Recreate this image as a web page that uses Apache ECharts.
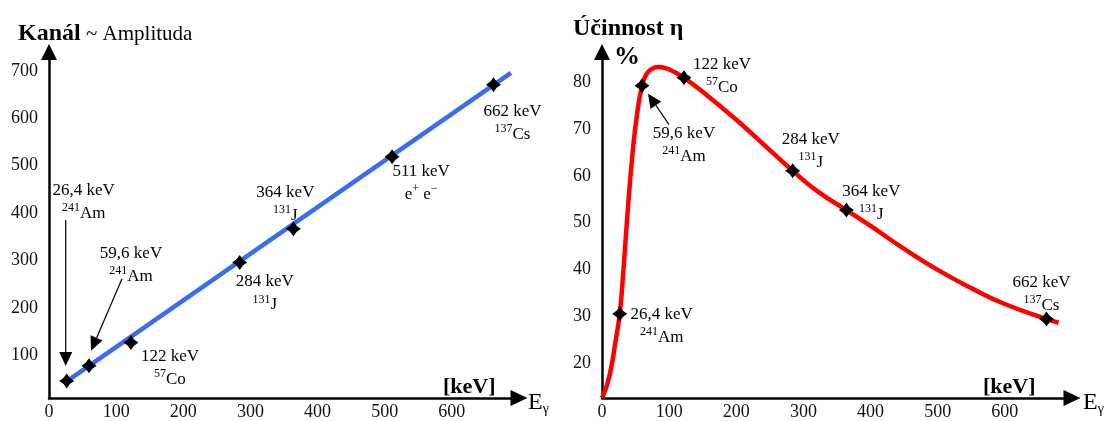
<!DOCTYPE html>
<html>
<head>
<meta charset="utf-8">
<script src="https://cdn.jsdelivr.net/npm/echarts@6/dist/echarts.min.js"></script>
<style>
  html, body { margin: 0; padding: 0; background: #fff; }
  #chart { width: 1108px; height: 421px; }
</style>
</head>
<body>
<div id="chart"></div>
<script>
// ---- Energy calibration: channel (pulse amplitude) vs gamma energy ----
const calibEnergy  = [26.4, 59.6, 122, 284, 364, 511, 662];
const calibChannel = [46, 78, 127, 296, 367, 519, 671];
// end points of the fitted calibration line
const fitEnergy  = [22, 688];
const fitChannel = [41, 696];
const channelTicks = [100, 200, 300, 400, 500, 600, 700];

// ---- Detection efficiency vs gamma energy ----
const effEnergy = [26.4, 59.6, 122, 284, 364, 662];
const effValue  = [30.5, 79.3, 81, 61.1, 52.7, 29.4];
const curveEnergy = [0, 8, 15, 20, 26.4, 32, 38, 45, 52, 59.6, 66, 74, 84, 96, 108, 122, 150, 200, 250, 284, 320, 364, 400, 450, 500, 550, 600, 662, 680];
const curveValue  = [12.5, 15.5, 20, 24.5, 30.5, 40, 52, 64, 73, 79.3, 81.7, 82.9, 83.3, 83.0, 82.2, 81, 78, 72, 65.5, 61.1, 56.8, 52.7, 49.3, 44.4, 39.9, 36, 32.6, 29.4, 28.6];
const efficiencyTicks = [20, 30, 40, 50, 60, 70, 80];

const energyTicks = [0, 100, 200, 300, 400, 500, 600];

// line notes: energy + isotope (superscript mass number)
const calibNotes = [
  '{v|26,4 keV}\n{s|241}{v|Am}',
  '{v|59,6 keV}\n{s|241}{v|Am}',
  '{v|122 keV}\n{s|57}{v|Co}',
  '{v|284 keV}\n{s|131}{v|J}',
  '{v|364 keV}\n{s|131}{v|J}',
  '{v|511 keV}\n{v|e}{s|+}{v| e}{s|\u2212}',
  '{v|662 keV}\n{s|137}{v|Cs}'
];
const effNotes = [
  '{v|26,4 keV}\n{s|241}{v|Am}',
  '{v|59,6 keV}\n{s|241}{v|Am}',
  '{v|122 keV}\n{s|57}{v|Co}',
  '{v|284 keV}\n{s|131}{v|J}',
  '{v|364 keV}\n{s|131}{v|J}',
  '{v|662 keV}\n{s|137}{v|Cs}'
];

// label placement (pixel offset of the text block centre from its point)
const calibNoteOffset = [[17, -179], [42, -101], [39, 25], [25, 31], [-8, -25], [29, 26], [19, 38]];
const effNoteOffset   = [[42, 12], [42, 59], [38, -2], [18, -20], [25, -7], [-5, -25]];
// pointer arrows: [grid, point index, tail offset, tip offset]
const pointers = [
  [0, 0, [-1, -161], [-1, -15]],
  [0, 1, [33, -87], [2, -15]],
  [1, 1, [27, 39], [6, 8]]
];

const SERIF = '"Liberation Serif", "DejaVu Serif", serif';
const INK = '#000';
const richNote = {
  v: { fontFamily: SERIF, fontSize: 17, color: INK, lineHeight: 23, textBorderWidth: 0 },
  s: { fontFamily: SERIF, fontSize: 12, color: INK, lineHeight: 23, verticalAlign: 'top', textBorderWidth: 0 }
};
const starSymbol = 'path://M0,-10 L4.2,-4.2 L10,0 L4.2,4.2 L0,10 L-4.2,4.2 L-10,0 L-4.2,-4.2 Z';

function zip(a, b) { return a.map((v, i) => [v, b[i]]); }

function pointData(xs, ys, notes, offsets) {
  return xs.map((x, i) => ({
    value: [x, ys[i]],
    label: {
      show: true,
      position: 'inside',
      align: 'center',
      verticalAlign: 'middle',
      offset: offsets[i],
      formatter: notes[i],
      color: INK,
      opacity: 1,
      textBorderWidth: 0,
      textBorderColor: 'transparent',
      rich: richNote
    }
  }));
}

const axisLineStyle = { color: '#000', width: 2.5 };

function xAxisFor(gridIndex) {
  return {
    type: 'value', gridIndex, min: 0, max: 700,
    axisLine: { show: true, onZero: false, lineStyle: axisLineStyle, symbol: ['none', 'triangle'], symbolSize: [16, 17] },
    axisTick: { show: false },
    splitLine: { show: false },
    axisLabel: { customValues: energyTicks, margin: 5, color: '#111', fontFamily: SERIF, fontSize: 18 }
  };
}
function yAxisFor(gridIndex, min, max, ticks) {
  return {
    type: 'value', gridIndex, min, max,
    axisLine: { show: true, onZero: false, lineStyle: axisLineStyle, symbol: ['none', 'triangle'], symbolSize: [16, 16] },
    axisTick: { show: false },
    splitLine: { show: false },
    axisLabel: { customValues: ticks, margin: 11, color: '#111', fontFamily: SERIF, fontSize: 18 }
  };
}

function boldText(x, y, text, size) {
  return { type: 'text', x, y, style: { text, fontFamily: SERIF, fontSize: size, fontWeight: 'bold', fill: '#000', verticalAlign: 'middle' } };
}
const richAxisName = {
  e: { fontFamily: SERIF, fontSize: 24, color: '#000', lineHeight: 26 },
  g: { fontFamily: SERIF, fontSize: 14, color: '#000', lineHeight: 26, verticalAlign: 'bottom' }
};
const titles = [
  { type: 'text', x: 18, y: 34, style: { text: '{b|Kanál}{r| ~ Amplituda}', verticalAlign: 'middle',
      rich: { b: { fontFamily: SERIF, fontSize: 24, fontWeight: 'bold', color: '#000' },
              r: { fontFamily: SERIF, fontSize: 21, color: '#000' } } } },
  boldText(573, 29, 'Účinnost η', 24),
  boldText(614, 57, '%', 26),
  boldText(443, 387, '[keV]', 22),
  boldText(983, 387, '[keV]', 22),
  { type: 'text', x: 528, y: 403, style: { text: '{e|E}{g|γ}', verticalAlign: 'middle', rich: richAxisName } },
  { type: 'text', x: 1083, y: 403, style: { text: '{e|E}{g|γ}', verticalAlign: 'middle', rich: richAxisName } }
];

const markerStyle = { color: '#000', opacity: 1 };

const option = {
  backgroundColor: '#fff',
  animation: false,
  grid: [
    { left: 49, top: 52, width: 470, height: 351 },
    { left: 602, top: 52, width: 470, height: 350 }
  ],
  xAxis: [xAxisFor(0), xAxisFor(1)],
  yAxis: [yAxisFor(0, 10, 740, channelTicks), yAxisFor(1, 12.5, 86.5, efficiencyTicks)],
  series: [
    {
      type: 'line', xAxisIndex: 0, yAxisIndex: 0,
      data: zip(fitEnergy, fitChannel), showSymbol: false,
      lineStyle: { color: '#3a6cf2', width: 4.5 }, z: 2
    },
    {
      type: 'scatter', xAxisIndex: 0, yAxisIndex: 0,
      symbol: starSymbol, symbolSize: 15,
      itemStyle: markerStyle,
      data: pointData(calibEnergy, calibChannel, calibNotes, calibNoteOffset), z: 3
    },
    {
      type: 'line', xAxisIndex: 1, yAxisIndex: 1,
      data: zip(curveEnergy, curveValue), showSymbol: false,
      smooth: 0.5,
      lineStyle: { color: '#ff0000', width: 4.5 }, z: 2
    },
    {
      type: 'scatter', xAxisIndex: 1, yAxisIndex: 1,
      symbol: starSymbol, symbolSize: 15,
      itemStyle: markerStyle,
      data: pointData(effEnergy, effValue, effNotes, effNoteOffset), z: 3
    }
  ],
  graphic: titles
};

const chart = echarts.init(document.getElementById('chart'), null, { renderer: 'canvas' });
chart.setOption(option);

// pointer arrows anchored on the converted point positions
function arrowShapes(px, py, tail, tip) {
  const x1 = px + tail[0], y1 = py + tail[1];
  const x2 = px + tip[0],  y2 = py + tip[1];
  const dx = x2 - x1, dy = y2 - y1, len = Math.hypot(dx, dy);
  const ux = dx / len, uy = dy / len, hl = 14, hw = 6.5;
  const bx = x2 - ux * hl, by = y2 - uy * hl;
  return [
    { type: 'line', shape: { x1, y1, x2: bx, y2: by }, style: { stroke: '#000', lineWidth: 1.2 } },
    { type: 'polygon', shape: { points: [[x2, y2], [bx - uy * hw, by + ux * hw], [bx + uy * hw, by - ux * hw]] }, style: { fill: '#000' } }
  ];
}
const arrowGraphics = [];
pointers.forEach(([g, idx, tail, tip]) => {
  const pt = g === 0 ? [calibEnergy[idx], calibChannel[idx]] : [effEnergy[idx], effValue[idx]];
  const [px, py] = chart.convertToPixel({ gridIndex: g }, pt);
  arrowGraphics.push(...arrowShapes(px, py, tail, tip));
});
chart.setOption({ graphic: titles.concat(arrowGraphics) });
</script>
</body>
</html>
